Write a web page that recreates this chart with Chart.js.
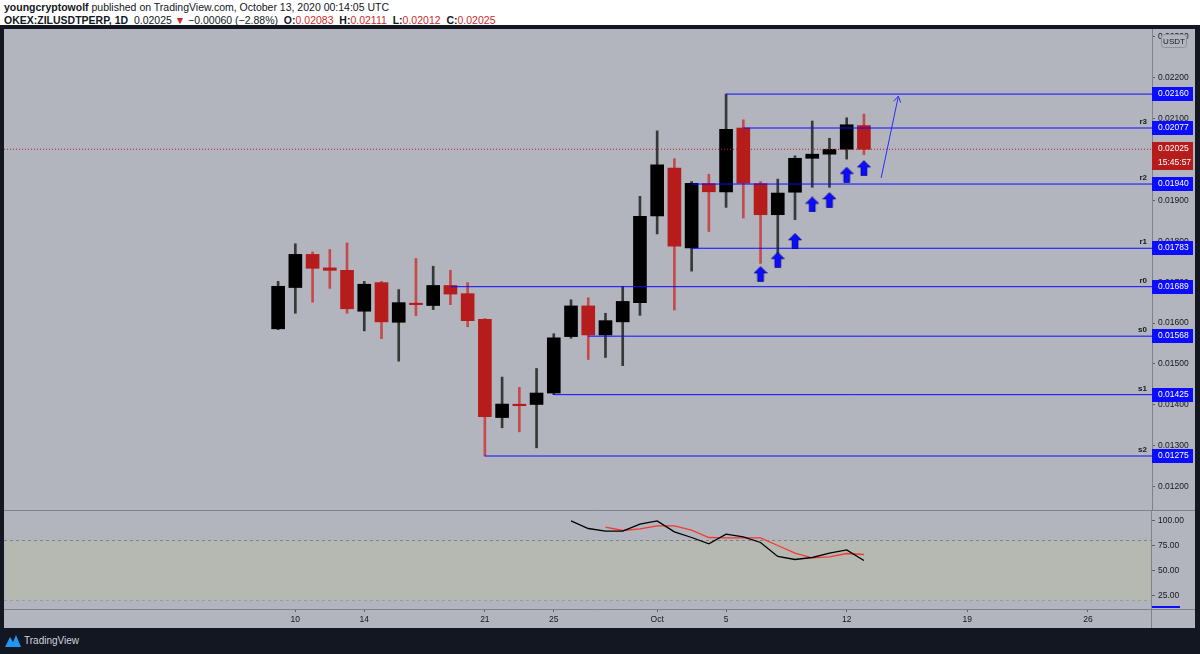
<!DOCTYPE html>
<html>
<head>
<meta charset="utf-8">
<script src="https://cdn.jsdelivr.net/npm/chart.js@4.4.0/dist/chart.umd.min.js"></script>
<style>
  body { margin: 0; width: 1200px; height: 654px; background: #131722; position: relative; overflow: hidden; font-family: "Liberation Sans", Arial, sans-serif; }
  #hdr { position: absolute; left: 0; top: 0; width: 1200px; height: 25px; background: #fff; color: #131722; font-size: 10.5px; line-height: 12px; }
  #hdr div { position: absolute; left: 4px; white-space: nowrap; }
  #hdr .r { color: #cf2b2b; }
  #pane { position: absolute; left: 4px; top: 29px; width: 1191px; height: 599px; background: #b2b5be; }
  #pane canvas { position: absolute; left: 0; }
  #foot { position: absolute; left: 5px; top: 634px; height: 14px; color: #d1d4dc; font-size: 10px; line-height: 14px; display: flex; align-items: center; gap: 3px; }
</style>
</head>
<body>
<div id="hdr">
  <div style="top:1px"><b>youngcryptowolf</b> published on TradingView.com, October 13, 2020 00:14:05 UTC</div>
  <div style="top:14px"><b>OKEX:ZILUSDTPERP, 1D</b>&nbsp; 0.02025 <span class="r">&#9660;</span> &minus;0.00060 (&minus;2.88%) &nbsp;<b>O:</b><span class="r">0.02083</span> &nbsp;<b>H:</b><span class="r">0.02111</span> &nbsp;<b>L:</b><span class="r">0.02012</span> &nbsp;<b>C:</b><span class="r">0.02025</span></div>
</div>
<div id="pane">
  <canvas id="price" width="1191" height="481" style="top:0"></canvas>
  <canvas id="stoch" width="1191" height="118" style="top:481px"></canvas>
</div>
<div id="foot">
  <svg width="16" height="12" viewBox="0 0 16 12"><path d="M0 12 L5 2 L8 7 L11 0 L16 12 Z" fill="#2196f3"/></svg>
  <span>TradingView</span>
</div>
<script>
// daily candles, ZILUSDT perp
const dates = ['2020-09-09','2020-09-10','2020-09-11','2020-09-12','2020-09-13','2020-09-14','2020-09-15',
  '2020-09-16','2020-09-17','2020-09-18','2020-09-19','2020-09-20','2020-09-21','2020-09-22','2020-09-23',
  '2020-09-24','2020-09-25','2020-09-26','2020-09-27','2020-09-28','2020-09-29','2020-09-30','2020-10-01',
  '2020-10-02','2020-10-03','2020-10-04','2020-10-05','2020-10-06','2020-10-07','2020-10-08','2020-10-09',
  '2020-10-10','2020-10-11','2020-10-12','2020-10-13'];
const opens  = [0.01586,0.01687,0.01768,0.01735,0.01729,0.01629,0.01699,0.01602,0.01648,0.01643,0.01692,0.01672,
  0.01609,0.01369,0.01401,0.01401,0.01429,0.01567,0.01642,0.01571,0.01603,0.01650,0.01862,0.01979,0.01784,
  0.01941,0.01921,0.02077,0.01941,0.01865,0.01920,0.02003,0.02013,0.02025,0.02083];
const highs  = [0.01702,0.01794,0.01774,0.01780,0.01796,0.01702,0.01702,0.01682,0.01758,0.01739,0.01729,0.01699,
  0.01611,0.01468,0.01443,0.01489,0.01574,0.01657,0.01662,0.01624,0.01690,0.01910,0.02070,0.02002,0.01946,
  0.01964,0.02160,0.02097,0.01946,0.01952,0.02009,0.02094,0.02052,0.02102,0.02111];
const lows   = [0.01584,0.01624,0.01651,0.01685,0.01624,0.01581,0.01562,0.01507,0.01618,0.01633,0.01645,0.01591,
  0.01275,0.01344,0.01334,0.01295,0.01425,0.01563,0.01511,0.01516,0.01496,0.01619,0.01818,0.01632,0.01727,
  0.01824,0.01883,0.01857,0.01746,0.01751,0.01853,0.01932,0.01932,0.02001,0.02012];
const closes = [0.01690,0.01768,0.01734,0.01729,0.01635,0.01695,0.01603,0.01650,0.01645,0.01692,0.01671,0.01606,
  0.01371,0.01402,0.01398,0.01429,0.01564,0.01642,0.01571,0.01606,0.01653,0.01861,0.01987,0.01788,0.01942,
  0.01921,0.02074,0.01942,0.01865,0.01918,0.02003,0.02013,0.02025,0.02085,0.02025];

// drawn levels
const levelPrices = [0.02160, 0.02077, 0.01940, 0.01783, 0.01689, 0.01568, 0.01425, 0.01275];
const levelNames  = ['', 'r3', 'r2', 'r1', 'r0', 's0', 's1', 's2'];
const levelStarts = ['2020-10-05','2020-10-06','2020-10-03','2020-10-03','2020-09-19','2020-09-27','2020-09-25','2020-09-21'];

// up arrows under the candles
const arrowDates  = ['2020-10-07','2020-10-08','2020-10-09','2020-10-10','2020-10-11','2020-10-12','2020-10-13'];
const arrowPrices = [0.01720, 0.01755, 0.01801, 0.01890, 0.01901, 0.01963, 0.01979];

// projected move
const trendDates  = ['2020-10-14', '2020-10-15'];
const trendPrices = [0.01955, 0.02155];

const lastPrice = 0.02025;
const countdown = '15:45:57';

const priceTicks = [0.012,0.013,0.014,0.015,0.016,0.017,0.018,0.019,0.020,0.021,0.022,0.023];
const tickDates  = ['2020-09-10','2020-09-14','2020-09-21','2020-09-25','2020-10-01','2020-10-05','2020-10-12','2020-10-19','2020-10-26'];
const tickLabels = ['10','14','21','25','Oct','5','12','19','26'];

// stoch rsi
const kDates  = ['2020-09-26','2020-09-27','2020-09-28','2020-09-29','2020-09-30','2020-10-01','2020-10-02','2020-10-03',
  '2020-10-04','2020-10-05','2020-10-06','2020-10-07','2020-10-08','2020-10-09','2020-10-10','2020-10-11','2020-10-12','2020-10-13'];
const kValues = [99.6, 92, 89.3, 89.3, 96.3, 99.6, 88.6, 83, 76.6, 86.3, 83.6, 78, 64, 61, 63, 67.3, 70.6, 60];
const dDates  = kDates.slice(2);
const dValues = [93.3, 90, 91.6, 94.6, 94.6, 90.3, 83, 82.6, 82.6, 82.6, 75, 67.3, 62.6, 63.6, 67, 66];
const stochTicks = [25, 50, 75, 100];
const bandLevels = [80, 20];

const base = Date.UTC(2020, 7, 31);
function dayOf(s) { return (Date.parse(s) - base) / 864e5; }

const X_MIN = -6.91, X_MAX = 59.72;
const BLUE = '#0c0cff', RED = '#b71c1c', AXIS_W = 43;
const FONT = { family: 'Liberation Sans', size: 8.5 };
const LINE_C = '#7e828b';

// no label padding around the plot, the panes sit edge to edge
function noPad(s) { s.paddingTop = 0; s.paddingBottom = 0; s.paddingLeft = 0; s.paddingRight = 0; }

// arrow marker
const arrowImg = document.createElement('canvas');
arrowImg.width = 14; arrowImg.height = 16;
(function () {
  const c = arrowImg.getContext('2d');
  c.beginPath();
  c.moveTo(7, 0.5); c.lineTo(13.5, 7); c.lineTo(10, 7); c.lineTo(10, 15.5);
  c.lineTo(4, 15.5); c.lineTo(4, 7); c.lineTo(0.5, 7); c.closePath();
  c.fillStyle = BLUE; c.fill();
  c.strokeStyle = 'rgba(0,0,110,0.6)'; c.lineWidth = 1; c.stroke();
})();

const up = dates.map((d, i) => closes[i] >= opens[i]);

const levelSets = levelPrices.map((p, i) => ({
  type: 'line',
  data: [{ x: dayOf(levelStarts[i]), y: p }, { x: X_MAX, y: p }],
  borderColor: BLUE, borderWidth: 1, pointRadius: 0, fill: false, order: 1
}));

const labelsPlugin = {
  id: 'priceLabels',
  afterDraw(chart) {
    const ctx = chart.ctx, ys = chart.scales.y, area = chart.chartArea;
    ctx.save();
    ctx.font = '8.5px "Liberation Sans"';
    ctx.textBaseline = 'middle';
    levelPrices.forEach((p, i) => {
      const y = Math.round(ys.getPixelForValue(p));
      ctx.fillStyle = BLUE;
      ctx.fillRect(area.right, y - 7, 41, 14);
      ctx.fillStyle = '#fff';
      ctx.textAlign = 'left';
      ctx.fillText(p.toFixed(5), area.right + 6, y);
      if (levelNames[i]) {
        ctx.fillStyle = '#131722';
        ctx.font = 'bold 8px "Liberation Sans"';
        ctx.textAlign = 'right';
        ctx.fillText(levelNames[i], area.right - 5, y - 6);
        ctx.font = '8.5px "Liberation Sans"';
      }
    });
    // last price + countdown
    const yl = Math.round(ys.getPixelForValue(lastPrice));
    ctx.fillStyle = RED;
    ctx.fillRect(area.right, yl - 7, 41, 14);
    ctx.fillRect(area.right, yl + 7, 41, 14);
    ctx.fillStyle = '#fff';
    ctx.textAlign = 'left';
    ctx.fillText(lastPrice.toFixed(5), area.right + 6, yl);
    ctx.fillText(countdown, area.right + 6, yl + 14);
    // currency badge
    ctx.fillStyle = '#b2b5be';
    ctx.strokeStyle = '#8f929a';
    ctx.lineWidth = 1;
    ctx.beginPath();
    ctx.roundRect(area.right + 9.5, 5.5, 25, 13, 3);
    ctx.fill(); ctx.stroke();
    ctx.fillStyle = '#131722';
    ctx.textAlign = 'center';
    ctx.font = '8px "Liberation Sans"';
    ctx.fillText('USDT', area.right + 22, 12.5);
    // head of the projection arrow
    const meta = chart.getDatasetMeta(chart.data.datasets.length - 2);
    const a = meta.data[0], b = meta.data[1];
    const ang = Math.atan2(b.y - a.y, b.x - a.x);
    ctx.strokeStyle = '#2a2aff';
    ctx.beginPath();
    ctx.moveTo(b.x + 7 * Math.cos(ang + 2.6), b.y + 7 * Math.sin(ang + 2.6));
    ctx.lineTo(b.x, b.y);
    ctx.lineTo(b.x + 7 * Math.cos(ang - 2.6), b.y + 7 * Math.sin(ang - 2.6));
    ctx.stroke();
    ctx.restore();
  }
};

new Chart(document.getElementById('price'), {
  type: 'bar',
  data: {
    datasets: [
      {
        type: 'bar',
        data: dates.map((d, i) => ({ x: dayOf(d), y: [opens[i], closes[i]] })),
        backgroundColor: up.map(u => u ? '#000000' : RED),
        barThickness: 13, minBarLength: 1.5, grouped: false, order: 2
      },
      {
        type: 'bar',
        data: dates.map((d, i) => ({ x: dayOf(d), y: [lows[i], highs[i]] })),
        backgroundColor: up.map(u => u ? '#383838' : '#c44a4c'),
        barThickness: 2, grouped: false, order: 3
      },
      ...levelSets,
      {
        type: 'line',
        data: [{ x: X_MIN, y: lastPrice }, { x: X_MAX, y: lastPrice }],
        borderColor: RED, borderWidth: 1, borderDash: [1, 2], pointRadius: 0, fill: false, order: 1
      },
      {
        type: 'line',
        data: trendDates.map((d, i) => ({ x: dayOf(d), y: trendPrices[i] })),
        borderColor: '#2a2aff', borderWidth: 1, pointRadius: 0, fill: false, order: 0
      },
      {
        type: 'scatter',
        data: arrowDates.map((d, i) => ({ x: dayOf(d), y: arrowPrices[i] })),
        pointStyle: arrowImg, pointRadius: 8, order: 0
      }
    ]
  },
  options: {
    responsive: false,
    animation: false,
    layout: { padding: 0, autoPadding: false },
    plugins: { legend: { display: false }, tooltip: { enabled: false } },
    scales: {
      x: { type: 'linear', min: X_MIN, max: X_MAX, offset: false, display: false, grid: { offset: false } },
      y: {
        position: 'right', min: 0.011430, max: 0.023191,
        afterFit: s => { s.width = AXIS_W; noPad(s); },
        afterBuildTicks: s => { s.ticks = priceTicks.map(v => ({ value: v })); },
        ticks: { callback: v => v.toFixed(5), color: '#131722', font: FONT, padding: 3 },
        grid: { drawOnChartArea: false, drawTicks: true, tickLength: 3, color: '#5d606b' },
        border: { display: true, color: LINE_C }
      }
    }
  },
  plugins: [labelsPlugin]
});

const framePlugin = {
  id: 'frame',
  afterDraw(chart) {
    const ctx = chart.ctx, area = chart.chartArea;
    ctx.save();
    ctx.strokeStyle = LINE_C;
    ctx.lineWidth = 1;
    ctx.beginPath();
    ctx.moveTo(0, 0.5); ctx.lineTo(chart.width, 0.5);
    ctx.moveTo(0, Math.round(area.bottom) + 0.5); ctx.lineTo(chart.width, Math.round(area.bottom) + 0.5);
    ctx.moveTo(Math.round(area.right) - 0.5, 0); ctx.lineTo(Math.round(area.right) - 0.5, chart.height);
    ctx.stroke();
    ctx.fillStyle = BLUE;
    ctx.fillRect(area.right, area.bottom - 3, 28, 2);
    ctx.restore();
  }
};

new Chart(document.getElementById('stoch'), {
  type: 'line',
  data: {
    datasets: [
      {
        data: [{ x: X_MIN, y: bandLevels[0] }, { x: X_MAX, y: bandLevels[0] }],
        borderColor: '#7d8088', borderWidth: 1, borderDash: [3, 3], pointRadius: 0,
        fill: '+1', backgroundColor: '#b6b9b2', order: 3
      },
      {
        data: [{ x: X_MIN, y: bandLevels[1] }, { x: X_MAX, y: bandLevels[1] }],
        borderColor: '#7d8088', borderWidth: 1, borderDash: [3, 3], pointRadius: 0, fill: false, order: 3
      },
      {
        data: dDates.map((d, i) => ({ x: dayOf(d), y: dValues[i] })),
        borderColor: '#f5392e', borderWidth: 1.3, pointRadius: 0, fill: false, tension: 0, order: 1
      },
      {
        data: kDates.map((d, i) => ({ x: dayOf(d), y: kValues[i] })),
        borderColor: '#000000', borderWidth: 1.3, pointRadius: 0, fill: false, tension: 0, order: 0
      }
    ]
  },
  options: {
    responsive: false,
    animation: false,
    layout: { padding: 0, autoPadding: false },
    plugins: { legend: { display: false }, tooltip: { enabled: false } },
    scales: {
      x: {
        type: 'linear', min: X_MIN, max: X_MAX,
        afterFit: s => { s.height = 19; noPad(s); },
        afterBuildTicks: s => { s.ticks = tickDates.map(d => ({ value: dayOf(d) })); },
        ticks: { callback: (v, i) => tickLabels[i], color: '#131722', font: FONT, padding: 3, autoSkip: false, maxRotation: 0 },
        grid: { drawOnChartArea: false, drawTicks: true, tickLength: 3, color: '#5d606b' },
        border: { display: false }
      },
      y: {
        position: 'right', min: 11.5, max: 110.5,
        afterFit: s => { s.width = AXIS_W; noPad(s); },
        afterBuildTicks: s => { s.ticks = stochTicks.map(v => ({ value: v })); },
        ticks: { callback: v => v.toFixed(2), color: '#131722', font: FONT, padding: 3 },
        grid: { drawOnChartArea: false, drawTicks: true, tickLength: 3, color: '#5d606b' },
        border: { display: false }
      }
    }
  },
  plugins: [framePlugin]
});
</script>
</body>
</html>
